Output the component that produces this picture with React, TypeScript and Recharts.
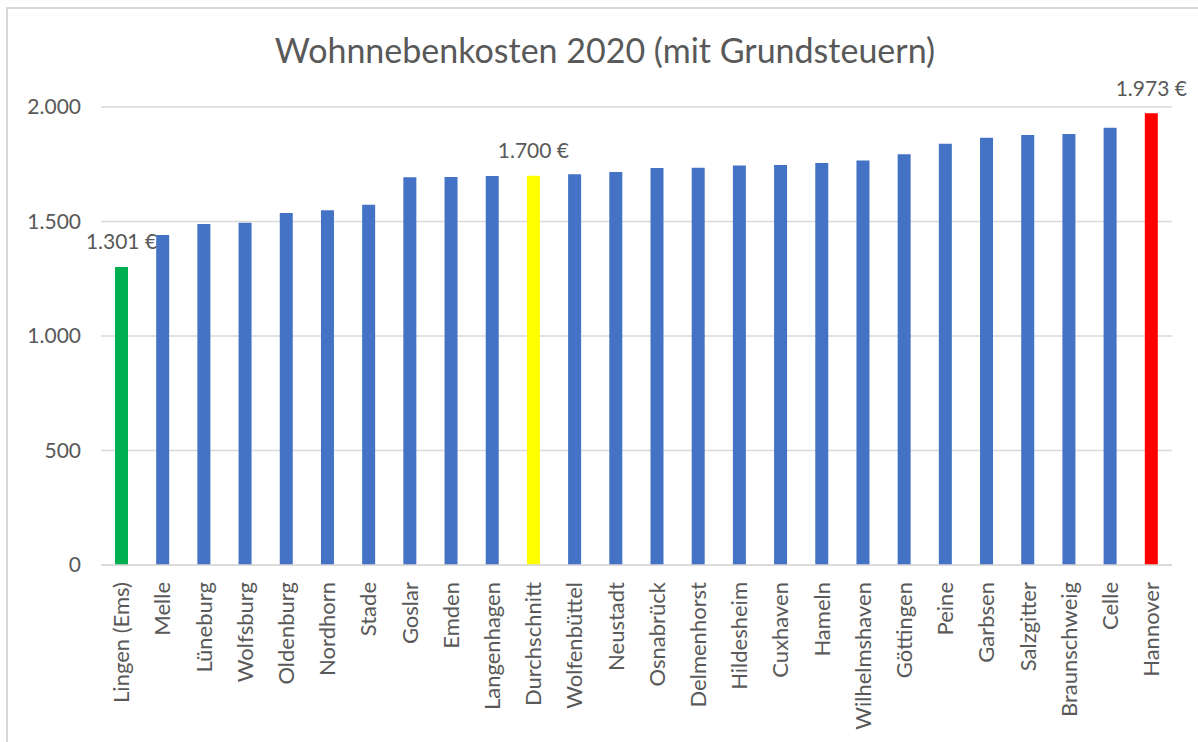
import React from "react";
import { BarChart, Bar, XAxis, YAxis, CartesianGrid, Cell, LabelList } from "recharts";

const categories = [
  "Lingen (Ems)", "Melle", "Lüneburg", "Wolfsburg", "Oldenburg", "Nordhorn", "Stade", "Goslar", "Emden",
  "Langenhagen", "Durchschnitt", "Wolfenbüttel", "Neustadt", "Osnabrück", "Delmenhorst", "Hildesheim",
  "Cuxhaven", "Hameln", "Wilhelmshaven", "Göttingen", "Peine", "Garbsen", "Salzgitter", "Braunschweig",
  "Celle", "Hannover",
];
const values = [
  1301, 1441, 1489, 1495, 1537, 1549, 1573, 1693, 1694, 1699, 1700, 1706, 1716, 1734, 1735, 1745,
  1747, 1756, 1766, 1794, 1840, 1866, 1878, 1882, 1909, 1973,
];
const yTicks = [0, 500, 1000, 1500, 2000];
const labeledCategories = ["Lingen (Ems)", "Durchschnitt", "Hannover"];
const minCategory = "Lingen (Ems)";
const avgCategory = "Durchschnitt";
const maxCategory = "Hannover";

const data = categories.map((name, i) => ({ name, value: values[i] }));

const FONT = "Lato, 'Open Sans', sans-serif";
const TEXT = "#595959";

const fmt = (v: number) => String(Math.round(v)).replace(/\B(?=(\d{3})+(?!\d))/g, ".");

const colorFor = (name: string) =>
  name === minCategory ? "#00B050" : name === avgCategory ? "#FFFF00" : name === maxCategory ? "#FF0000" : "#4472C4";

const XTick = (props: any) => {
  const { x, y, payload } = props;
  return (
    <g transform={`translate(${x},${y})`}>
      <text
        x={-15}
        y={0}
        dy="0.35em"
        transform="rotate(-90)"
        textAnchor="end"
        fill={TEXT}
        fontSize={22}
        fontFamily={FONT}
      >
        {payload.value}
      </text>
    </g>
  );
};

const renderLabel = (props: any) => {
  const { x, y, width, value, index } = props;
  const name = categories[index];
  if (!labeledCategories.includes(name)) return null;
  return (
    <text
      x={x + width / 2}
      y={y - 25}
      dy="0.35em"
      textAnchor="middle"
      fill={TEXT}
      fontSize={21}
      fontFamily={FONT}
    >
      {fmt(value)} €
    </text>
  );
};

export default function App() {
  return (
    <div style={{ position: "absolute", left: 0, top: 0, width: 1198, height: 742, background: "#fff", overflow: "hidden" }}>
      <div
        style={{
          position: "absolute",
          left: 6,
          top: 7,
          width: 1300,
          height: 800,
          borderLeft: "2px solid #d9d9d9",
          borderTop: "2px solid #d9d9d9",
        }}
      />
      <div
        style={{
          position: "absolute",
          left: 105,
          top: 30,
          width: 1000,
          textAlign: "center",
          fontFamily: FONT,
          fontSize: 34,
          color: TEXT,
          lineHeight: "40px",
        }}
      >
        Wohnnebenkosten 2020 (mit Grundsteuern)
      </div>
      <div style={{ position: "absolute", left: 0, top: 0 }}>
        <BarChart
          width={1198}
          height={742}
          data={data}
          margin={{ top: 107, right: 26, bottom: 0, left: 0 }}
          barSize={13}
        >
          <CartesianGrid vertical={false} stroke="#d9d9d9" strokeWidth={1.5} />
          <XAxis
            dataKey="name"
            interval={0}
            height={177}
            tickLine={false}
            tickSize={0}
            axisLine={{ stroke: "#d9d9d9", strokeWidth: 1.5 }}
            tick={<XTick />}
          />
          <YAxis
            domain={[0, 2000]}
            ticks={yTicks}
            width={101}
            axisLine={false}
            tickLine={false}
            tickSize={0}
            tickMargin={20}
            tickFormatter={fmt}
            tick={{ fill: TEXT, fontSize: 21, fontFamily: FONT }}
          />
          <Bar dataKey="value" isAnimationActive={false}>
            {data.map((d) => (
              <Cell key={d.name} fill={colorFor(d.name)} />
            ))}
            <LabelList dataKey="value" content={renderLabel} />
          </Bar>
        </BarChart>
      </div>
    </div>
  );
}
